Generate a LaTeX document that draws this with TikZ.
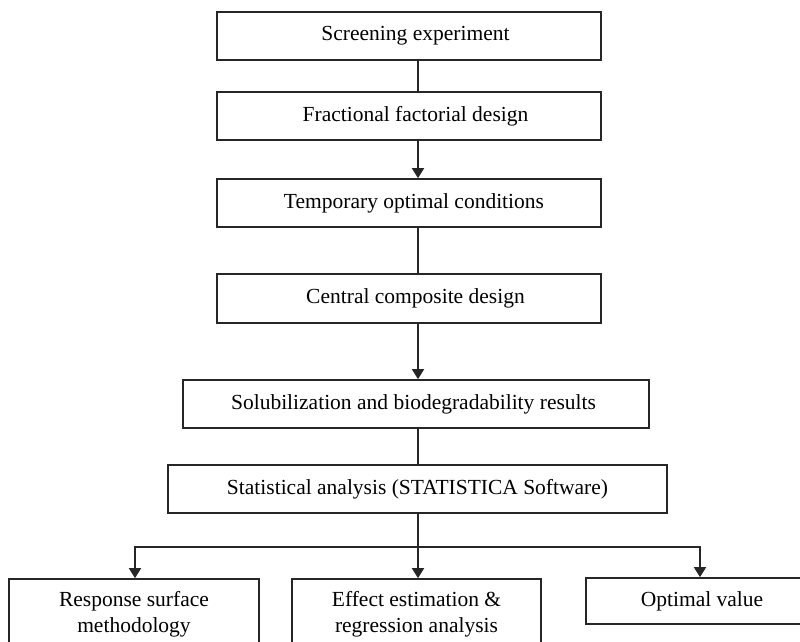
\documentclass[tikz,border=0pt]{standalone}
\usepackage{fontspec}
\setmainfont{Liberation Serif}
\usetikzlibrary{arrows.meta}
\begin{document}
\begin{tikzpicture}[x=1pt,y=-1pt,
  box/.style={draw=black!85, line width=1.7pt, inner sep=0pt, minimum height=48pt, align=center,
    font=\fontsize{21.5}{26}\selectfont},
  link/.style={draw=black!85, line width=1.7pt},
  arr/.style={link, -{Triangle[length=10pt,width=12pt]}}]
\clip (0,0) rectangle (800,641);
\fill[white] (0,0) rectangle (800,641);
\coordinate (spine) at (418,0);
\node[box, minimum width=384pt] (b1) at (409,36) {\hspace*{13pt}Screening experiment};
\node[box, minimum width=384pt] (b2) at (409,116) {\hspace*{13pt}Fractional factorial design};
\node[box, minimum width=384pt] (b3) at (409,203) {\hspace*{10pt}Temporary optimal conditions};
\node[box, minimum width=384pt, minimum height=49pt] (b4) at (409,298.5) {\hspace*{13pt}Central composite design};
\node[box, minimum width=466pt] (b5) at (416,404) {Solubilization and biodegradability results\hspace*{5pt}};
\node[box, minimum width=499pt] (b6) at (417.5,489) {Statistical analysis (STATISTICA Software)};
\node[box, minimum width=250pt, minimum height=71pt] (r1) at (134,614.5) {Response surface\\methodology};
\node[box, minimum width=249pt, minimum height=71pt] (r2) at (416.5,614.5) {Effect estimation \&\\regression analysis};
\node[box, minimum width=232pt, minimum height=46pt] (r3) at (702,601) {Optimal value};
\coordinate (fork) at (418,547);
\draw[link] (b1.south -| spine) -- (b2.north -| spine);
\draw[arr] (b2.south -| spine) -- (b3.north -| spine);
\draw[link] (b3.south -| spine) -- (b4.north -| spine);
\draw[arr] (b4.south -| spine) -- (b5.north -| spine);
\draw[link] (b5.south -| spine) -- (b6.north -| spine);
\draw[link] (b6.south -| spine) -- (fork);
\draw[arr] (fork) -- (r2.north -| fork);
\draw[arr] (fork) -| ([xshift=1pt]r1.north);
\draw[arr] (fork) -| ([xshift=-2pt]r3.north);
\end{tikzpicture}
\end{document}
